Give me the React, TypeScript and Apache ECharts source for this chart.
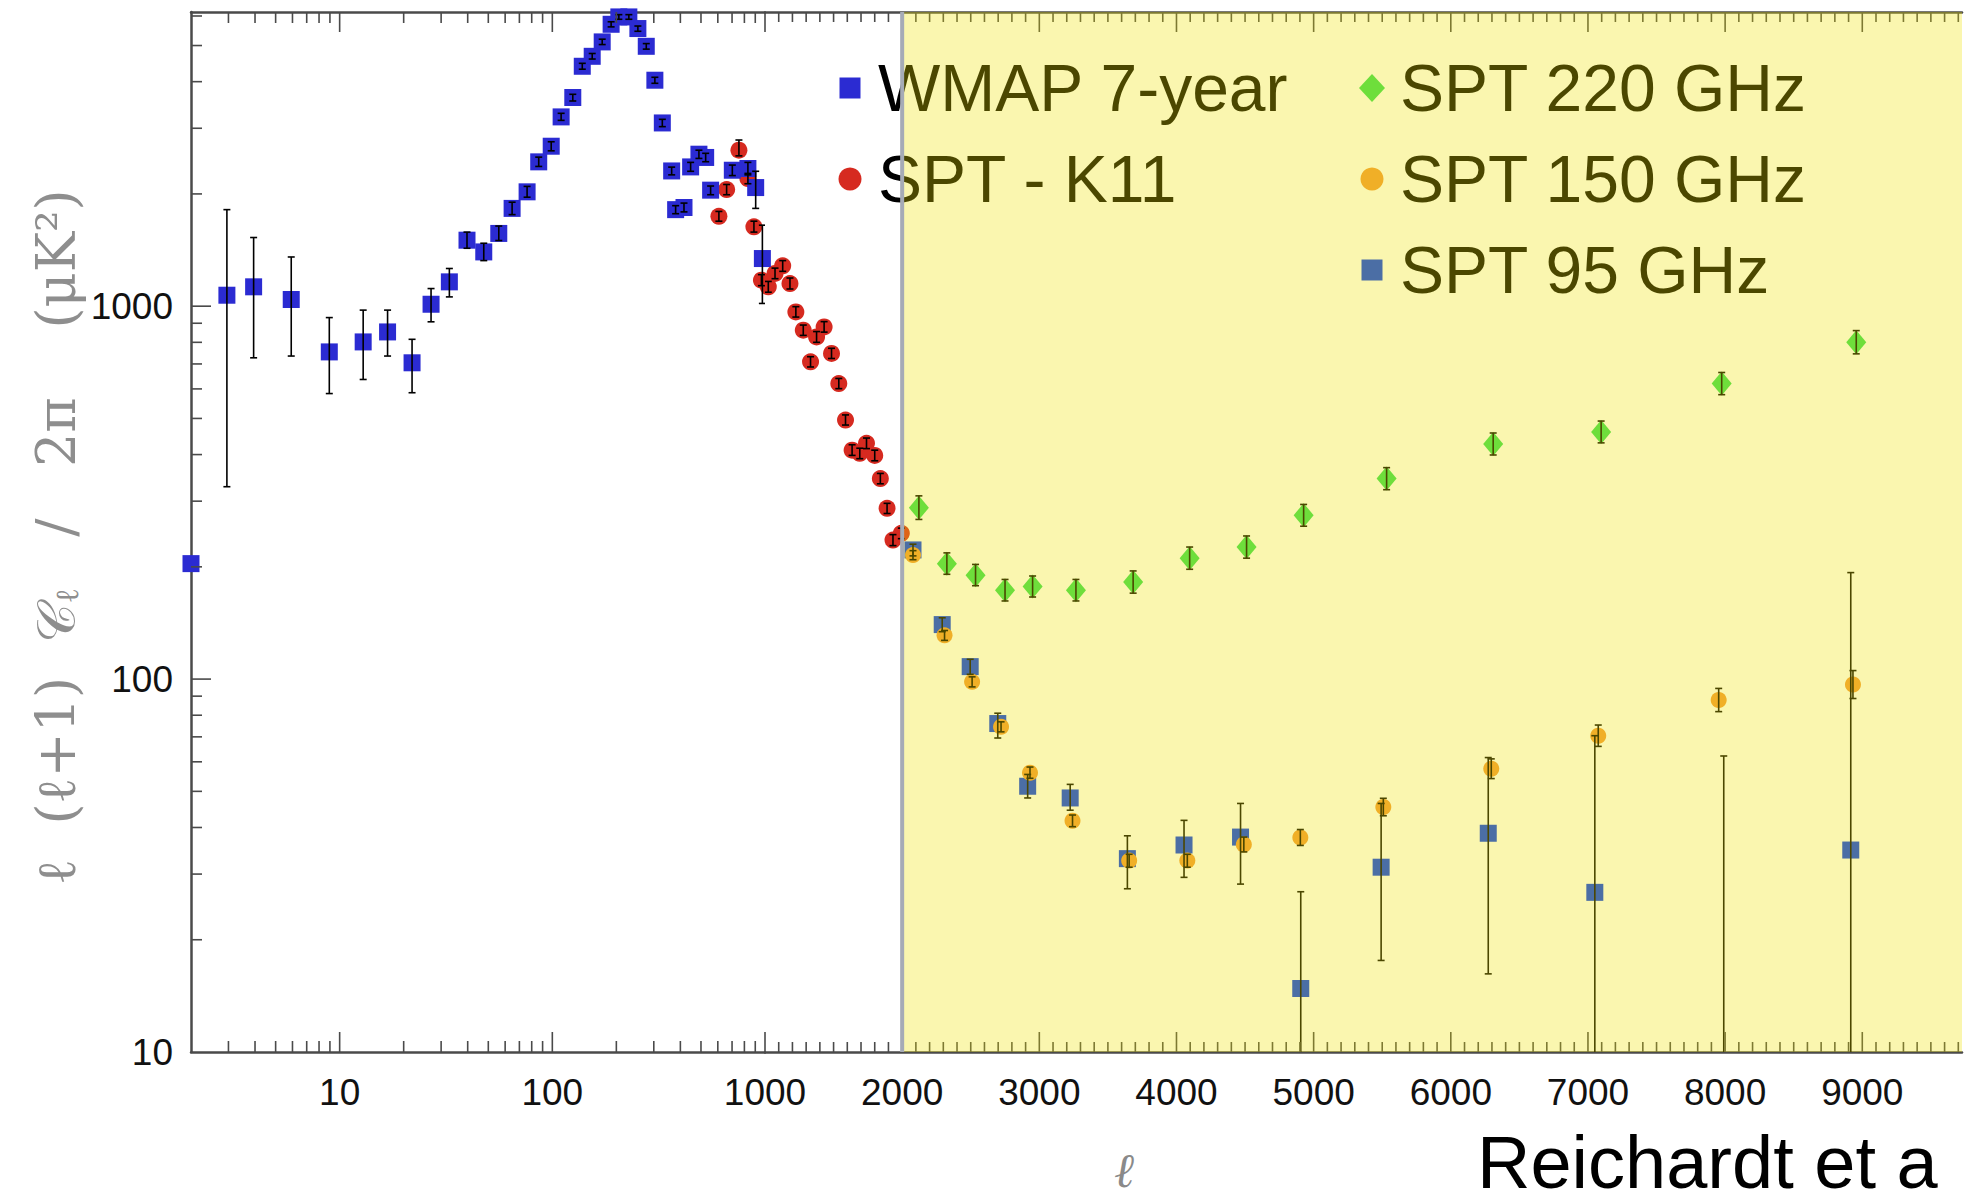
import React, { useEffect, useRef } from "react";
import * as echarts from "echarts";

// ---- axis ranges ----
const X_MIN = 2;
const X_SPLIT = 1000;
const X_MAX = 9727;
const Y_MIN = 10;
const Y_MAX = 6150;
const SHADE_FROM = 2000;

// ---- tick values ----
const xLogMajorTicks = [10, 100, 1000];
const xLogMinorTicks = [3, 4, 5, 6, 7, 8, 9, 20, 30, 40, 50, 60, 70, 80, 90, 200, 300, 400, 500, 600, 700, 800, 900];
const xLinMajorTicks = [2000, 3000, 4000, 5000, 6000, 7000, 8000, 9000];
const yMajorTicks = [100, 1000];
const yMinorTicks = [20, 30, 40, 50, 60, 70, 80, 90, 200, 300, 400, 500, 600, 700, 800, 900, 2000, 3000, 4000, 5000, 6000];
const xLogLabels = [10, 100, 1000];
const xLinLabels = [2000, 3000, 4000, 5000, 6000, 7000, 8000, 9000];
const yLabels = [10, 100, 1000];

type Pt = [number, number, number | null, number | null]; // ell, value, errLow, errHigh

// WMAP 7-year
const wmap: Pt[] = [
  [2.0, 204, null, null],
  [2.95, 1070, 328, 1815],
  [3.94, 1127, 727, 1528],
  [5.92, 1042, 735, 1355],
  [8.94, 754, 583, 932],
  [12.9, 802, 636, 976],
  [16.8, 853, 735, 976],
  [21.9, 705, 586, 815],
  [26.9, 1012, 908, 1115],
  [32.8, 1162, 1059, 1262],
  [39.7, 1503, 1430, 1580],
  [47.6, 1398, 1325, 1475],
  [56, 1567, 1500, 1640],
  [64.7, 1829, 1760, 1900],
  [76.1, 2026, 1960, 2095],
  [86.3, 2438, 2370, 2510],
  [98.8, 2685, 2610, 2760],
  [110, 3218, 3150, 3290],
  [124.8, 3627, 3550, 3700],
  [138.3, 4399, 4320, 4480],
  [154, 4678, 4600, 4760],
  [171.6, 5113, 5030, 5200],
  [189, 5701, 5610, 5790],
  [205.5, 5966, 5880, 6050],
  [229, 5966, 5880, 6050],
  [252.5, 5553, 5460, 5640],
  [276.5, 4976, 4890, 5060],
  [303.5, 4036, 3960, 4110],
  [329, 3100, 3030, 3170],
  [364, 2305, 2250, 2360],
  [380, 1815, 1770, 1860],
  [416, 1839, 1790, 1890],
  [447, 2363, 2300, 2430],
  [489, 2556, 2490, 2620],
  [526, 2505, 2440, 2570],
  [555, 2047, 1990, 2100],
  [702, 2315, 2240, 2390],
  [831, 2340, 2250, 2430],
  [904, 2080, 1829, 2300],
  [972, 1342, 1017, 1649],
];

// SPT - K11
const sptK11: Pt[] = [
  [607, 1742, 1690, 1795],
  [660, 2055, 1990, 2120],
  [754, 2620, 2530, 2790],
  [831, 2199, 2130, 2270],
  [887, 1632, 1580, 1690],
  [962, 1174, 1135, 1215],
  [1024, 1127, 1090, 1165],
  [1073, 1224, 1185, 1265],
  [1129, 1283, 1240, 1325],
  [1182, 1150, 1112, 1190],
  [1225, 965, 935, 997],
  [1279, 862, 835, 890],
  [1332, 709, 687, 732],
  [1376, 827, 800, 855],
  [1431, 880, 852, 909],
  [1485, 747, 724, 771],
  [1538, 620, 601, 640],
  [1587, 495, 480, 511],
  [1635, 411, 398, 425],
  [1691, 403, 390, 416],
  [1740, 429, 415, 443],
  [1800, 398, 385, 411],
  [1841, 345, 334, 356],
  [1890, 287, 278, 296],
  [1933, 236, 228, 244],
  [1994, 246, 238, 254],
];

// SPT 220 GHz
const spt220: Pt[] = [
  [2122, 288, 268, 310],
  [2326, 204, 191, 218],
  [2535, 190, 178, 203],
  [2750, 173, 162, 185],
  [2951, 177, 166, 189],
  [3267, 173, 162, 185],
  [3684, 182, 170, 195],
  [4096, 211, 197, 226],
  [4511, 226, 211, 242],
  [4927, 275, 257, 294],
  [5532, 345, 322, 369],
  [6309, 427, 399, 457],
  [7096, 460, 430, 492],
  [7975, 620, 579, 664],
  [8956, 800, 745, 860],
];

// SPT 150 GHz
const spt150: Pt[] = [
  [2079, 215, 209, 221],
  [2309, 131, 127, 135],
  [2510, 98.3, 95.3, 101.4],
  [2721, 74.5, 72.2, 76.8],
  [2932, 56.1, 54.2, 58.1],
  [3242, 41.7, 40.2, 43.2],
  [3655, 32.6, 31.3, 33.9],
  [4079, 32.6, 31.3, 33.9],
  [4491, 36.0, 34.4, 37.7],
  [4903, 37.6, 35.8, 39.5],
  [5508, 45.4, 43.0, 47.9],
  [6295, 57.5, 54.1, 61.1],
  [7075, 70.5, 66.0, 75.3],
  [7953, 87.9, 81.8, 94.4],
  [8932, 96.7, 88.7, 105.4],
];

// SPT 95 GHz
const spt95: Pt[] = [
  [2079, 222, 214, 230],
  [2292, 140, 134, 146],
  [2496, 108, 103, 113],
  [2697, 76, 69.5, 81],
  [2915, 51.6, 48.0, 55.5],
  [3225, 48.0, 44.5, 52.2],
  [3642, 33.0, 27.4, 38.0],
  [4055, 35.9, 29.4, 41.8],
  [4467, 37.7, 28.2, 46.4],
  [4906, 14.8, 1, 26.9],
  [5492, 31.3, 17.6, 46.4],
  [6273, 38.6, 16.2, 61.6],
  [7050, 26.8, 1, 70.5],
  [7990, 4, 1, 62.2],
  [8916, 34.8, 1, 193],
];

// ---- colours ----
const C_WMAP = "#2b2bd2";
const C_K11 = "#d62a20";
const C_220 = "#33dc57";
const C_150 = "#f09839";
const C_95 = "#0039f0";
const C_AXIS = "#4a4a4a";
const C_ERR = "#000000";
const OVERLAY = "rgba(239,226,0,0.314)";

const legendCol1 = [
  { label: "WMAP 7-year", symbol: "rect", color: C_WMAP },
  { label: "SPT - K11", symbol: "circle", color: C_K11 },
];
const legendCol2 = [
  { label: "SPT 220 GHz", symbol: "diamond", color: C_220 },
  { label: "SPT 150 GHz", symbol: "circle", color: C_150 },
  { label: "SPT 95 GHz", symbol: "rect", color: C_95 },
];

const leftPart = (pts: Pt[]) => pts.filter((p) => p[0] <= X_SPLIT);
const rightPart = (pts: Pt[]) => pts.filter((p) => p[0] >= X_SPLIT);

function scatter(pts: Pt[], g: number, symbol: string, size: any, color: string, z: number) {
  return {
    type: "scatter",
    xAxisIndex: g,
    yAxisIndex: g,
    data: pts.map((p) => [p[0], p[1]]),
    symbol,
    symbolSize: size,
    itemStyle: { color, opacity: 1 },
    z,
    silent: true,
    clip: true,
    emphasis: { disabled: true },
  };
}

function errBars(pts: Pt[], g: number, z: number) {
  return {
    type: "custom",
    xAxisIndex: g,
    yAxisIndex: g,
    z,
    silent: true,
    clip: true,
    encode: { x: 0, y: 1 },
    data: pts.filter((p) => p[2] != null && p[3] != null).map((p) => [p[0], p[1], p[2], p[3]]),
    renderItem: (params: any, api: any) => {
      const x = api.value(0);
      const top = api.coord([x, api.value(3)]);
      const bot = api.coord([x, api.value(2)]);
      const cap = 3.5;
      const st = { stroke: C_ERR, lineWidth: 1.6 };
      return {
        type: "group",
        children: [
          { type: "line", shape: { x1: top[0], y1: top[1], x2: bot[0], y2: bot[1] }, style: st },
          { type: "line", shape: { x1: top[0] - cap, y1: top[1], x2: top[0] + cap, y2: top[1] }, style: st },
          { type: "line", shape: { x1: bot[0] - cap, y1: bot[1], x2: bot[0] + cap, y2: bot[1] }, style: st },
        ],
      };
    },
  };
}

function xTicks(values: number[], g: number, len: number) {
  return {
    type: "custom",
    xAxisIndex: g,
    yAxisIndex: g,
    z: 20,
    silent: true,
    clip: false,
    encode: { x: 0, y: 1 },
    data: values.map((v) => [v, Y_MIN]),
    renderItem: (params: any, api: any) => {
      const v = api.value(0);
      const b = api.coord([v, Y_MIN]);
      const t = api.coord([v, Y_MAX]);
      const st = { stroke: C_AXIS, lineWidth: 1.6 };
      return {
        type: "group",
        children: [
          { type: "line", shape: { x1: b[0], y1: b[1], x2: b[0], y2: b[1] - len }, style: st },
          { type: "line", shape: { x1: t[0], y1: t[1], x2: t[0], y2: t[1] + len }, style: st },
        ],
      };
    },
  };
}

function yTicks(values: number[], len: number) {
  return {
    type: "custom",
    xAxisIndex: 0,
    yAxisIndex: 0,
    z: 20,
    silent: true,
    clip: false,
    encode: { x: 0, y: 1 },
    data: values.map((v) => [X_MIN, v]),
    renderItem: (params: any, api: any) => {
      const p = api.coord([X_MIN, api.value(1)]);
      return {
        type: "line",
        shape: { x1: p[0], y1: p[1], x2: p[0] + len, y2: p[1] },
        style: { stroke: C_AXIS, lineWidth: 1.6 },
      };
    },
  };
}

function legendMarker(symbol: string, color: string, cx: number, cy: number) {
  if (symbol === "rect") {
    return { type: "rect", shape: { x: cx - 10.5, y: cy - 10.5, width: 21, height: 21 }, style: { fill: color }, z: 10 };
  }
  if (symbol === "circle") {
    return { type: "circle", shape: { cx, cy, r: 11.5 }, style: { fill: color }, z: 10 };
  }
  return {
    type: "polygon",
    shape: { points: [[cx, cy - 14], [cx + 13, cy], [cx, cy + 14], [cx - 13, cy]] },
    style: { fill: color },
    z: 10,
  };
}

const labelFont = { fontFamily: "Liberation Sans", fontSize: 37, color: "#111" };

export default function App() {
  const ref = useRef<HTMLDivElement>(null);

  useEffect(() => {
    if (!ref.current) return;
    const chart = echarts.init(ref.current, null, { renderer: "svg" });

    const linMinor: number[] = [];
    for (let v = 1100; v < X_MAX; v += 100) if (v % 1000 !== 0) linMinor.push(v);

    const rowH = 91;
    const graphic: any[] = [];
    legendCol1.forEach((it, i) => {
      const cy = 88 + i * rowH;
      graphic.push(legendMarker(it.symbol, it.color, 850, cy));
      graphic.push({
        type: "text",
        x: 878,
        y: cy,
        z: 10,
        style: { text: it.label, fontFamily: "Liberation Sans", fontSize: 66, fill: "#000", align: "left", verticalAlign: "middle" },
      });
    });
    legendCol2.forEach((it, i) => {
      const cy = 88 + i * rowH;
      graphic.push(legendMarker(it.symbol, it.color, 1372, cy));
      graphic.push({
        type: "text",
        x: 1400,
        y: cy,
        z: 10,
        style: { text: it.label, fontFamily: "Liberation Sans", fontSize: 66, fill: "#000", align: "left", verticalAlign: "middle" },
      });
    });
    graphic.push({
      type: "text",
      x: 56,
      y: 537,
      rotation: Math.PI / 2,
      z: 10,
      style: {
        text: "{n|ℓ  (ℓ+1)  𝒞}{s|ℓ}{n|   /   2π    (μK²)}",
        align: "center",
        verticalAlign: "middle",
        rich: {
          n: { fontFamily: "DejaVu Serif", fontSize: 54, fill: "#8e8e8e" },
          s: { fontFamily: "DejaVu Serif", fontSize: 32, fill: "#8e8e8e", verticalAlign: "bottom" },
        },
      },
    });
    graphic.push({
      type: "text",
      x: 1124,
      y: 1170,
      z: 10,
      style: { text: "ℓ", fontFamily: "DejaVu Serif", fontStyle: "italic", fontSize: 48, fill: "#8a8a8a", align: "center", verticalAlign: "middle" },
    });
    graphic.push({
      type: "text",
      x: 1477,
      y: 1162,
      z: 10,
      style: {
        text: "Reichardt et a",
        fontFamily: "Liberation Sans",
        fontSize: 74,
        lineHeight: 74,
        fill: "#000",
        align: "left",
        verticalAlign: "middle",
      },
    });

    const option: any = {
      animation: false,
      backgroundColor: "#ffffff",
      grid: [
        { left: 191, top: 12, width: 574, height: 1040, containLabel: false },
        { left: 765, top: 12, width: 1200, height: 1040, containLabel: false },
      ],
      xAxis: [
        {
          gridIndex: 0,
          type: "log",
          logBase: 10,
          min: X_MIN,
          max: X_SPLIT,
          position: "bottom",
          axisLine: { show: true, lineStyle: { color: C_AXIS, width: 2.5 } },
          axisTick: { show: false },
          splitLine: { show: false },
          axisLabel: {
            ...labelFont,
            margin: 22,
            formatter: (v: number) => (xLogLabels.includes(Math.round(v)) ? String(Math.round(v)) : ""),
          },
        },
        {
          gridIndex: 1,
          type: "value",
          min: X_SPLIT,
          max: X_MAX,
          interval: 1000,
          position: "bottom",
          axisLine: { show: true, lineStyle: { color: C_AXIS, width: 2.5 } },
          axisTick: { show: false },
          splitLine: { show: false },
          axisLabel: {
            ...labelFont,
            margin: 22,
            showMinLabel: false,
            formatter: (v: number) => (xLinLabels.includes(Math.round(v)) ? String(Math.round(v)) : ""),
          },
        },
        {
          gridIndex: 0,
          type: "log",
          logBase: 10,
          min: X_MIN,
          max: X_SPLIT,
          position: "top",
          axisLine: { show: true, lineStyle: { color: C_AXIS, width: 2.5 } },
          axisTick: { show: false },
          axisLabel: { show: false },
          splitLine: { show: false },
        },
        {
          gridIndex: 1,
          type: "value",
          min: X_SPLIT,
          max: X_MAX,
          interval: 1000,
          position: "top",
          axisLine: { show: true, lineStyle: { color: C_AXIS, width: 2.5 } },
          axisTick: { show: false },
          axisLabel: { show: false },
          splitLine: { show: false },
        },
      ],
      yAxis: [
        {
          gridIndex: 0,
          type: "log",
          logBase: 10,
          min: Y_MIN,
          max: Y_MAX,
          axisLine: { show: true, lineStyle: { color: C_AXIS, width: 2.5 } },
          axisTick: { show: false },
          splitLine: { show: false },
          axisLabel: {
            ...labelFont,
            margin: 18,
            formatter: (v: number) => (yLabels.includes(Math.round(v)) ? String(Math.round(v)) : ""),
          },
        },
        {
          gridIndex: 1,
          type: "log",
          logBase: 10,
          min: Y_MIN,
          max: Y_MAX,
          show: false,
          splitLine: { show: false },
        },
      ],
      graphic,
      series: [
        // ticks
        xTicks(xLogMajorTicks, 0, 20),
        xTicks(xLogMinorTicks, 0, 11),
        xTicks(xLinMajorTicks, 1, 20),
        xTicks(linMinor, 1, 10),
        yTicks(yMajorTicks, 20),
        yTicks(yMinorTicks, 11),
        // left grid (log ell)
        scatter(leftPart(sptK11), 0, "circle", 17, C_K11, 3),
        scatter(leftPart(wmap), 0, "rect", 17, C_WMAP, 4),
        errBars(leftPart(sptK11), 0, 6),
        errBars(leftPart(wmap), 0, 6),
        // right grid (linear ell)
        scatter(rightPart(sptK11), 1, "circle", 17, C_K11, 3),
        scatter(rightPart(spt95), 1, "rect", 17, C_95, 3),
        scatter(rightPart(spt150), 1, "circle", 16, C_150, 4),
        scatter(rightPart(spt220), 1, "diamond", [20, 24], C_220, 5),
        errBars(rightPart(sptK11), 1, 6),
        errBars(rightPart(spt95), 1, 6),
        errBars(rightPart(spt150), 1, 6),
        errBars(rightPart(spt220), 1, 6),
        // yellow band overlay from ell = 2000
        {
          type: "custom",
          xAxisIndex: 1,
          yAxisIndex: 1,
          z: 50,
          silent: true,
          clip: false,
          encode: { x: 0, y: 1 },
          data: [[SHADE_FROM, Y_MAX]],
          renderItem: (params: any, api: any) => {
            const tl = api.coord([SHADE_FROM, Y_MAX]);
            const br = api.coord([X_MAX, Y_MIN]);
            return {
              type: "group",
              children: [
                { type: "rect", shape: { x: tl[0], y: tl[1], width: br[0] - tl[0], height: br[1] - tl[1] }, style: { fill: OVERLAY } },
                { type: "line", shape: { x1: tl[0], y1: tl[1], x2: tl[0], y2: br[1] }, style: { stroke: "#a6abb6", lineWidth: 4 } },
              ],
            };
          },
        },
      ],
    };

    chart.setOption(option);
    return () => chart.dispose();
  }, []);

  return (
    <div
      ref={ref}
      style={{ position: "absolute", left: 0, top: 0, width: 1965, height: 1203, background: "#fff" }}
    />
  );
}
